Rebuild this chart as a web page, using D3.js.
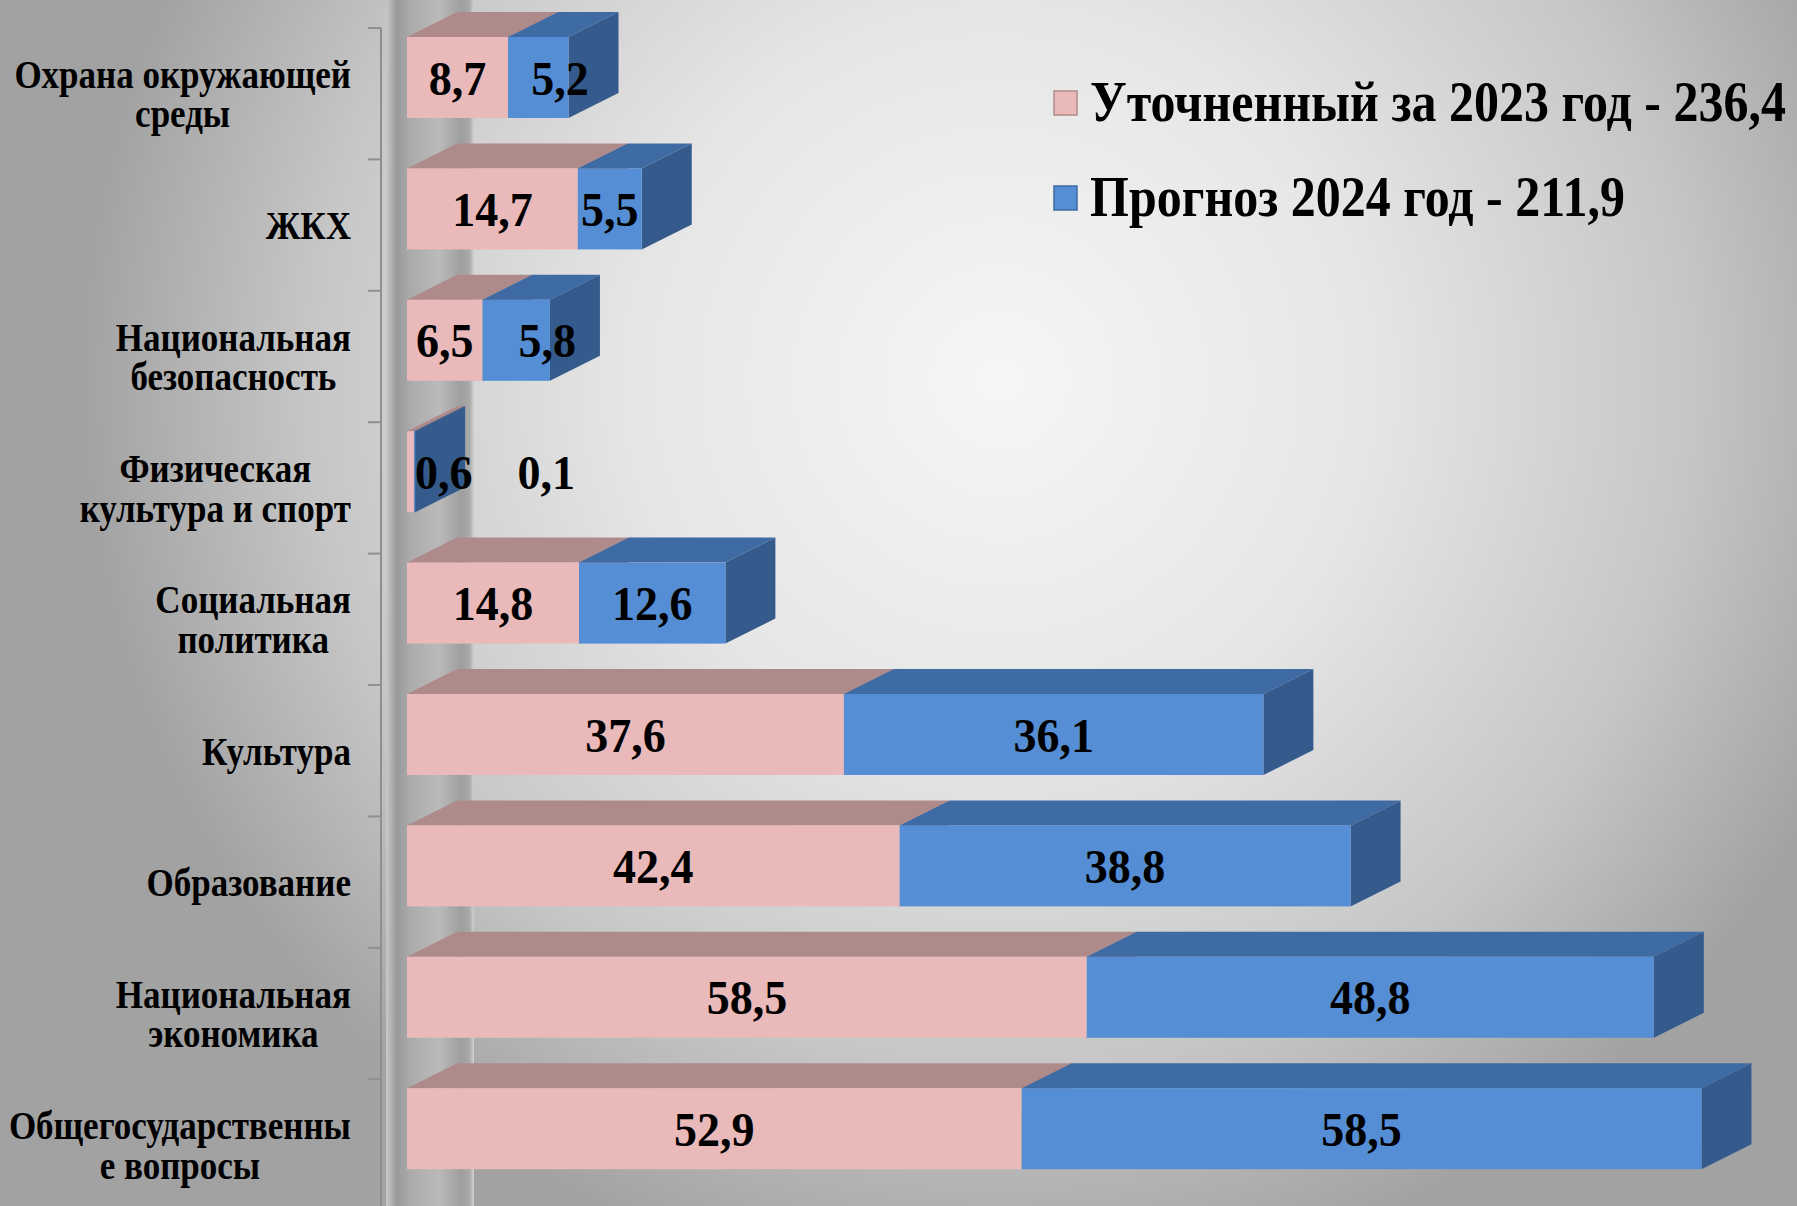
<!DOCTYPE html>
<html lang="ru">
<head>
<meta charset="utf-8">
<script src="https://cdn.jsdelivr.net/npm/d3@7"></script>
<style>
  html, body { margin: 0; padding: 0; background: #bdbdbd; }
  svg { display: block; }
  text { font-family: "Liberation Serif", "Times New Roman", serif; font-weight: bold; fill: #000; }
</style>
</head>
<body>
<svg id="chart" width="1797" height="1206"></svg>
<script>
// categories, top to bottom
const categories = [
  ["Охрана окружающей", "среды"],
  ["ЖКХ"],
  ["Национальная", "безопасность"],
  ["Физическая", "культура и спорт"],
  ["Социальная", "политика"],
  ["Культура"],
  ["Образование"],
  ["Национальная", "экономика"],
  ["Общегосударственны", "е вопросы"]
];
const values2023 = [8.7, 14.7, 6.5, 0.6, 14.8, 37.6, 42.4, 58.5, 52.9];
const values2024 = [5.2, 5.5, 5.8, 0.1, 12.6, 36.1, 38.8, 48.8, 58.5];
const seriesNames = ["Уточненный за 2023 год - 236,4", "Прогноз 2024 год - 211,9"];

const W = 1797, H = 1206;
const svg = d3.select("#chart");
const defs = svg.append("defs");

// background
const bg = defs.append("radialGradient").attr("id", "bg")
  .attr("gradientUnits", "userSpaceOnUse")
  .attr("cx", 1000).attr("cy", 380).attr("r", 920);
[[0, "#f6f6f6"], [0.4, "#e6e6e6"], [0.75, "#c6c6c6"], [1, "#a2a2a2"]]
  .forEach(([o, c]) => bg.append("stop").attr("offset", o).attr("stop-color", c));
svg.append("rect").attr("width", W).attr("height", H).attr("fill", "url(#bg)");

// side wall of the 3d chart
const wall = defs.append("linearGradient").attr("id", "wall");
[[0, "#c9c9c9"], [0.12, "#9a9a9a"], [0.3, "#acacac"], [0.6, "#bababa"], [0.86, "#9e9e9e"], [0.95, "#aaaaaa"], [1, "#d2d2d2"]]
  .forEach(([o, c]) => wall.append("stop").attr("offset", o).attr("stop-color", c));
svg.append("rect").attr("x", 386).attr("y", 0).attr("width", 88).attr("height", H)
  .attr("fill", "url(#wall)");

const n = categories.length;
const y = d3.scaleBand().domain(d3.range(n)).range([28, 28 + n * 131.4]);
const x = d3.scaleLinear().domain([0, 110]).range([407, 407 + 110 * 11.62]);

const barOff = 9, barH = 81, dx = 50, dy = 25;

// axis
const axis = svg.append("g").attr("stroke", "#8f8f8f").attr("stroke-width", 2);
axis.append("line").attr("x1", 381).attr("x2", 381).attr("y1", y(0)).attr("y2", H);
axis.selectAll(".tick").data(d3.range(n)).join("line")
  .attr("x1", 368).attr("x2", 381)
  .attr("y1", d => y(d)).attr("y2", d => y(d));

// bars
const colors = [
  { front: "#eab9b9", top: "#ae8b8a", side: "#9c7a79" },
  { front: "#558ed5", top: "#3e6ba3", side: "#345b8c" }
];
const rows = categories.map((c, i) => ({
  i, segs: [
    { v: values2023[i], x0: 0, x1: values2023[i], c: colors[0] },
    { v: values2024[i], x0: values2023[i], x1: values2023[i] + values2024[i], c: colors[1] }
  ]
}));

const bars = svg.append("g");
rows.forEach(r => {
  const g = bars.append("g");
  const yt = y(r.i) + barOff, yb = yt + barH;
  r.segs.forEach(s => {
    const a = x(s.x0), b = x(s.x1);
    g.append("path").attr("fill", s.c.top)
      .attr("d", `M${a},${yt}L${a + dx},${yt - dy}L${b + dx},${yt - dy}L${b},${yt}Z`);
    g.append("path").attr("fill", s.c.side)
      .attr("d", `M${b},${yt}L${b + dx},${yt - dy}L${b + dx},${yb - dy}L${b},${yb}Z`);
    g.append("rect").attr("x", a).attr("y", yt).attr("width", b - a).attr("height", barH)
      .attr("fill", s.c.front);
  });
});

// value labels
const fmt = v => d3.format(".1f")(v).replace(".", ",");
const labels = svg.append("g").style("font-size", "46px");
rows.forEach(r => {
  const cy = y(r.i) + barOff + barH / 2;
  let prevRight = -Infinity;
  r.segs.forEach((s, k) => {
    const t = labels.append("text").attr("text-anchor", "middle").text(fmt(s.v));
    const w = t.node().getComputedTextLength();
    let cx = (x(s.x0) + x(s.x1)) / 2;
    if (k === 0) cx = Math.max(cx, x(0) + w / 2 + 8);
    else cx = Math.max(cx, prevRight + 45 + w / 2);
    prevRight = cx + w / 2;
    t.attr("transform", `translate(${cx},${cy}) scale(1,1.06)`).attr("dy", "0.35em");
  });
});

// category labels
const catG = svg.append("g").style("font-size", "35px");
categories.forEach((lines, i) => {
  const cy = y(i) + y.bandwidth() / 2;
  const t = catG.append("text").attr("text-anchor", "middle");
  lines.forEach((l, k) => {
    t.append("tspan").attr("x", 0)
      .attr("y", (k - (lines.length - 1) / 2) * 35)
      .attr("dy", "0.35em").text(l);
  });
  const w = d3.max(t.selectAll("tspan").nodes(), nd => nd.getComputedTextLength());
  t.attr("transform", `translate(${351 - w / 2},${cy}) scale(1,1.13)`);
});

// legend
const legend = svg.append("g");
seriesNames.forEach((name, k) => {
  const ly = 103 + k * 95;
  legend.append("rect").attr("x", 1054).attr("y", ly - 12).attr("width", 23).attr("height", 24)
    .attr("fill", colors[k].front).attr("stroke", colors[k].top).attr("stroke-width", 1.5);
  legend.append("text").attr("transform", `translate(1090,${ly - 2}) scale(1,1.12)`)
    .attr("dy", "0.35em").style("font-size", "50px").text(name);
});
</script>
</body>
</html>
